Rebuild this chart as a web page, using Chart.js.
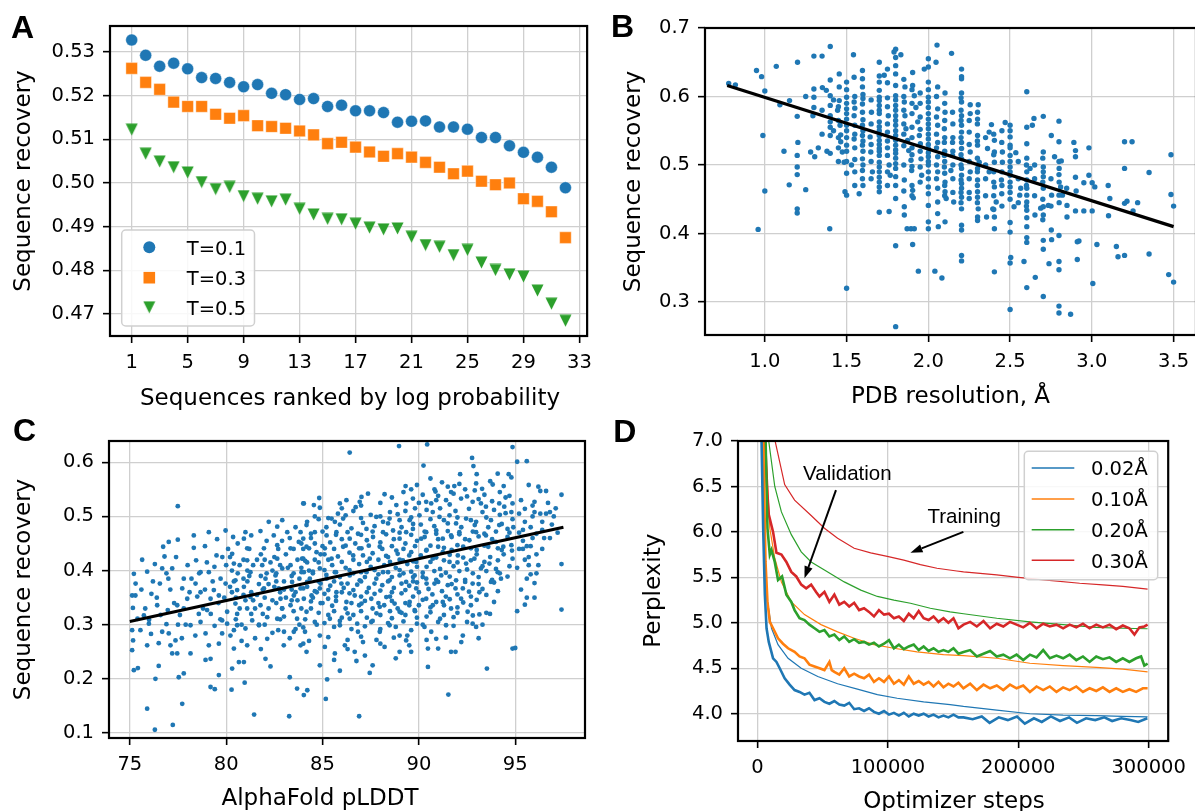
<!DOCTYPE html>
<html>
<head>
<meta charset="utf-8">
<script src="https://cdn.jsdelivr.net/npm/chart.js@4.4.1/dist/chart.umd.min.js"></script>
<style>
  html, body { margin: 0; padding: 0; background: #fff; }
  body { width: 1195px; height: 811px; position: relative; overflow: hidden; }
  canvas { position: absolute; }
</style>
</head>
<body>
<canvas id="chart-a" width="600" height="415" style="left:0px;top:0px"></canvas>
<canvas id="chart-b" width="612" height="415" style="left:600px;top:0px"></canvas>
<canvas id="chart-c" width="600" height="406" style="left:0px;top:405px"></canvas>
<canvas id="chart-d" width="595" height="406" style="left:600px;top:405px"></canvas>
<script>
// ---------- Panel A: recovery of sequences ranked by log probability ----------
const ranks = [1,2,3,4,5,6,7,8,9,10,11,12,13,14,15,16,17,18,19,20,21,22,23,24,25,26,27,28,29,30,31,32];
const recoveryT01 = [0.5327,0.5292,0.5267,0.5274,0.5261,0.5241,0.5239,0.5230,0.5220,0.5225,0.5205,0.5202,0.5191,0.5193,0.5175,0.5178,0.5165,0.5165,0.5161,0.5139,0.5141,0.5142,0.5128,0.5128,0.5123,0.5104,0.5104,0.5085,0.5070,0.5059,0.5036,0.4989];
const recoveryT03 = [0.5262,0.5230,0.5214,0.5185,0.5175,0.5175,0.5157,0.5148,0.5154,0.5131,0.5129,0.5125,0.5119,0.5110,0.5090,0.5093,0.5082,0.5071,0.5061,0.5067,0.5059,0.5047,0.5036,0.5021,0.5027,0.5004,0.4996,0.5000,0.4964,0.4958,0.4934,0.4875];
const recoveryT05 = [0.5122,0.5067,0.5049,0.5036,0.5024,0.5002,0.4986,0.4991,0.4970,0.4964,0.4958,0.4962,0.4941,0.4928,0.4918,0.4917,0.4907,0.4898,0.4894,0.4896,0.4877,0.4858,0.4854,0.4835,0.4847,0.4818,0.4801,0.4791,0.4786,0.4754,0.4724,0.4685];
const rankTicks = [1,5,9,13,17,21,25,29,33];
const recoveryTicksA = [0.47,0.48,0.49,0.50,0.51,0.52,0.53];

// ---------- Panel B: recovery vs PDB resolution ----------
const pdbPoints = [
  [0.779,0.619],[0.82,0.617],[0.949,0.638],[0.98,0.629],[1.0,0.608],[0.988,0.543],[1.0,0.462],[0.959,0.406],
  [1.07,0.644],[1.092,0.588],[1.117,0.520],[1.151,0.594],[1.149,0.471],[1.20,0.650],[1.198,0.571],[1.202,0.533],
  [1.198,0.514],[1.198,0.497],[1.198,0.486],[1.198,0.436],[1.198,0.430],[1.25,0.464],[1.25,0.600],[1.30,0.659],
  [1.35,0.659],[1.30,0.611],[1.30,0.599],[1.30,0.584],[1.294,0.572],[1.28,0.519],[1.305,0.512],[1.327,0.525],
  [1.40,0.673],[1.40,0.624],[1.40,0.601],[1.40,0.587],[1.40,0.563],[1.40,0.555],[1.40,0.543],[1.40,0.517],
  [1.397,0.407],[1.352,0.613],[1.376,0.609],[1.40,0.572],[1.455,0.633],[1.455,0.614],[1.455,0.594],[1.445,0.580],
  [1.46,0.558],[1.464,0.544],[1.464,0.534],[1.474,0.519],[1.485,0.504],[1.49,0.461],[1.50,0.456],[1.50,0.621],
  [1.50,0.599],[1.50,0.582],[1.50,0.567],[1.50,0.550],[1.50,0.529],[1.50,0.520],[1.50,0.320],[1.53,0.500],
  [1.542,0.661],[1.546,0.628],[1.546,0.592],[1.546,0.572],[1.55,0.558],[1.546,0.538],[1.55,0.508],[1.55,0.470],
  [1.577,0.458],[1.597,0.638],[1.597,0.626],[1.597,0.614],[1.597,0.589],[1.597,0.577],[1.597,0.558],[1.597,0.543],
  [1.597,0.529],[1.597,0.509],[1.597,0.492],[1.597,0.480],[1.644,0.541],[1.652,0.577],[1.648,0.519],[1.658,0.490],
  [1.70,0.650],[1.70,0.621],[1.70,0.609],[1.70,0.599],[1.70,0.587],[1.70,0.575],[1.70,0.563],[1.70,0.550],
  [1.70,0.536],[1.70,0.524],[1.70,0.514],[1.70,0.504],[1.70,0.490],[1.70,0.475],[1.70,0.461],[1.70,0.431],
  [1.76,0.432],[1.73,0.631],[1.75,0.640],[1.755,0.572],[1.75,0.548],[1.75,0.514],[1.76,0.500],[1.767,0.485],
  [1.79,0.665],[1.80,0.669],[1.80,0.657],[1.80,0.645],[1.80,0.633],[1.80,0.616],[1.80,0.601],[1.80,0.587],
  [1.80,0.572],[1.80,0.558],[1.80,0.543],[1.80,0.529],[1.80,0.517],[1.80,0.502],[1.80,0.483],[1.80,0.451],
  [1.80,0.382],[1.80,0.264],[1.832,0.661],[1.853,0.478],[1.853,0.439],[1.853,0.427],[1.87,0.407],[1.894,0.407],
  [1.904,0.384],[1.914,0.407],[1.939,0.345],[1.857,0.614],[1.853,0.592],[1.857,0.572],[1.863,0.553],[1.873,0.536],
  [1.88,0.521],[1.894,0.507],[1.898,0.492],[1.904,0.463],[1.908,0.452],[1.904,0.635],[1.904,0.616],[1.914,0.601],
  [1.924,0.584],[1.935,0.563],[1.945,0.543],[1.951,0.531],[1.955,0.509],[1.959,0.485],[1.975,0.640],[2.0,0.655],
  [2.0,0.643],[2.0,0.621],[2.0,0.599],[2.0,0.584],[2.0,0.567],[2.0,0.553],[2.0,0.538],[2.0,0.524],
  [2.0,0.512],[2.0,0.500],[2.0,0.490],[2.0,0.468],[2.0,0.441],[2.0,0.417],[2.0,0.407],[2.04,0.345],
  [2.053,0.675],[2.061,0.410],[2.047,0.650],[2.057,0.614],[2.057,0.582],[2.057,0.558],[2.057,0.533],[2.057,0.512],
  [2.057,0.490],[2.057,0.466],[2.057,0.446],[2.057,0.429],[2.142,0.663],[2.203,0.640],[2.203,0.629],[2.203,0.626],
  [2.203,0.605],[2.203,0.592],[2.203,0.572],[2.203,0.558],[2.203,0.548],[2.203,0.533],[2.203,0.524],[2.203,0.509],
  [2.203,0.495],[2.203,0.485],[2.203,0.473],[2.203,0.466],[2.203,0.453],[2.203,0.436],[2.203,0.412],[2.203,0.405],
  [2.203,0.368],[2.203,0.360],[2.102,0.605],[2.102,0.577],[2.148,0.577],[2.098,0.553],[2.098,0.533],[2.148,0.533],
  [2.098,0.514],[2.148,0.514],[2.098,0.497],[2.138,0.492],[2.102,0.475],[2.102,0.461],[2.109,0.451],[2.155,0.446],
  [2.102,0.417],[2.083,0.335],[2.256,0.588],[2.305,0.588],[2.256,0.575],[2.301,0.577],[2.301,0.567],[2.25,0.548],
  [2.301,0.543],[2.256,0.519],[2.301,0.529],[2.311,0.504],[2.301,0.495],[2.256,0.490],[2.301,0.478],[2.301,0.461],
  [2.25,0.451],[2.301,0.453],[2.305,0.436],[2.301,0.424],[2.356,0.424],[2.301,0.419],[2.386,0.559],[2.372,0.548],
  [2.404,0.536],[2.404,0.519],[2.362,0.524],[2.404,0.504],[2.372,0.490],[2.404,0.468],[2.415,0.446],[2.394,0.436],
  [2.404,0.424],[2.404,0.407],[2.404,0.344],[2.449,0.533],[2.453,0.519],[2.447,0.478],[2.47,0.562],[2.453,0.504],
  [2.449,0.458],[2.5,0.558],[2.5,0.550],[2.5,0.541],[2.5,0.529],[2.5,0.514],[2.5,0.497],[2.5,0.485],
  [2.5,0.475],[2.5,0.468],[2.5,0.450],[2.5,0.416],[2.5,0.402],[2.504,0.365],[2.5,0.357],[2.5,0.289],
  [2.535,0.518],[2.524,0.439],[2.565,0.466],[2.559,0.456],[2.602,0.607],[2.602,0.555],[2.602,0.531],[2.602,0.510],
  [2.602,0.490],[2.602,0.478],[2.602,0.466],[2.602,0.456],[2.602,0.446],[2.602,0.434],[2.602,0.423],[2.602,0.410],
  [2.602,0.394],[2.602,0.387],[2.585,0.359],[2.602,0.321],[2.636,0.558],[2.646,0.568],[2.622,0.495],[2.652,0.427],
  [2.654,0.336],[2.703,0.571],[2.703,0.519],[2.703,0.497],[2.703,0.490],[2.703,0.483],[2.703,0.466],[2.703,0.439],
  [2.703,0.427],[2.703,0.390],[2.703,0.377],[2.703,0.308],[2.687,0.437],[2.734,0.441],[2.752,0.543],[2.772,0.512],
  [2.754,0.456],[2.752,0.405],[2.754,0.391],[2.738,0.356],[2.799,0.564],[2.799,0.534],[2.799,0.505],[2.799,0.486],
  [2.809,0.468],[2.799,0.456],[2.82,0.456],[2.799,0.397],[2.799,0.359],[2.799,0.347],[2.799,0.294],[2.799,0.284],
  [2.87,0.282],[2.846,0.466],[2.813,0.506],[2.848,0.441],[2.848,0.424],[2.89,0.533],[2.9,0.521],[2.9,0.512],
  [2.9,0.482],[2.904,0.462],[2.9,0.433],[2.911,0.388],[2.921,0.389],[2.911,0.362],[2.951,0.474],[2.951,0.433],
  [2.982,0.525],[2.982,0.485],[3.002,0.474],[3.002,0.433],[3.018,0.468],[3.006,0.327],[3.031,0.384],[3.1,0.470],
  [3.11,0.451],[3.102,0.426],[3.15,0.381],[3.16,0.366],[3.2,0.495],[3.2,0.534],[3.246,0.534],[3.2,0.444],
  [3.215,0.447],[3.2,0.368],[3.252,0.433],[3.28,0.445],[3.35,0.489],[3.35,0.370],[3.47,0.340],[3.484,0.515],
  [3.484,0.457],[3.5,0.440],[3.5,0.329]
];
// dense core of panel B (1.3 - 2.8 Å), read column by column
const pdbPointsCore = [
  [1.35,0.580],[1.35,0.545],[1.38,0.520],[1.42,0.595],[1.42,0.550],
  [1.45,0.565],[1.45,0.540],[1.45,0.525],[1.45,0.505],[1.45,0.585],
  [1.5,0.610],[1.5,0.590],[1.5,0.575],[1.5,0.558],[1.5,0.540],[1.5,0.505],[1.5,0.488],
  [1.55,0.600],[1.55,0.583],[1.55,0.545],[1.55,0.525],[1.55,0.490],
  [1.6,0.603],[1.6,0.597],[1.6,0.566],[1.6,0.550],[1.6,0.535],[1.6,0.520],[1.6,0.500],[1.6,0.470],
  [1.65,0.595],[1.65,0.560],[1.65,0.530],[1.65,0.505],[1.65,0.480],
  [1.7,0.630],[1.7,0.594],[1.7,0.580],[1.7,0.556],[1.7,0.543],[1.7,0.530],[1.7,0.520],[1.7,0.497],[1.7,0.482],[1.7,0.468],
  [1.75,0.620],[1.75,0.598],[1.75,0.585],[1.75,0.560],[1.75,0.535],[1.75,0.525],[1.75,0.490],[1.75,0.470],
  [1.8,0.595],[1.8,0.580],[1.8,0.565],[1.8,0.550],[1.8,0.536],[1.8,0.522],[1.8,0.510],[1.8,0.495],[1.8,0.470],
  [1.85,0.625],[1.85,0.600],[1.85,0.580],[1.85,0.560],[1.85,0.545],[1.85,0.528],[1.85,0.500],[1.85,0.462],
  [1.9,0.610],[1.9,0.590],[1.9,0.575],[1.9,0.555],[1.9,0.540],[1.9,0.525],[1.9,0.515],[1.9,0.498],[1.9,0.470],[1.9,0.455],
  [1.95,0.605],[1.95,0.590],[1.95,0.570],[1.95,0.552],[1.95,0.520],[1.95,0.497],[1.95,0.475],
  [2.0,0.610],[2.0,0.592],[2.0,0.575],[2.0,0.560],[2.0,0.545],[2.0,0.530],[2.0,0.518],[2.0,0.505],[2.0,0.480],[2.0,0.458],
  [2.05,0.600],[2.05,0.570],[2.05,0.545],[2.05,0.525],[2.05,0.500],[2.05,0.480],
  [2.1,0.590],[2.1,0.565],[2.1,0.540],[2.1,0.520],[2.1,0.505],[2.1,0.488],[2.1,0.470],[2.1,0.455],
  [2.15,0.560],[2.15,0.540],[2.15,0.520],[2.15,0.500],[2.15,0.480],[2.15,0.460],
  [2.2,0.598],[2.2,0.580],[2.2,0.565],[2.2,0.540],[2.2,0.515],[2.2,0.500],[2.2,0.478],[2.2,0.460],[2.2,0.445],
  [2.25,0.565],[2.25,0.530],[2.25,0.505],[2.25,0.480],[2.25,0.460],
  [2.3,0.560],[2.3,0.535],[2.3,0.510],[2.3,0.490],[2.3,0.470],[2.3,0.445],
  [2.35,0.540],[2.35,0.500],[2.35,0.480],[2.35,0.455],
  [2.4,0.545],[2.4,0.515],[2.4,0.490],[2.4,0.475],[2.4,0.455],[2.4,0.435],
  [2.45,0.550],[2.45,0.490],[2.45,0.470],[2.45,0.440],
  [2.5,0.525],[2.5,0.505],[2.5,0.490],[2.5,0.460],
  [2.55,0.505],[2.55,0.480],[2.55,0.445],[2.6,0.500],[2.6,0.470],[2.6,0.440],
  [2.65,0.500],[2.65,0.480],[2.65,0.455],[2.7,0.510],[2.7,0.475],[2.7,0.450],[2.7,0.420],
  [2.75,0.480],[2.75,0.440],[2.8,0.495],[2.8,0.475],[2.8,0.445]
];
const pdbFit = [[0.77,0.616],[3.5,0.410]];
const resolutionTicks = [1.0,1.5,2.0,2.5,3.0,3.5];
const recoveryTicksB = [0.3,0.4,0.5,0.6,0.7];

// ---------- Panel C: recovery vs AlphaFold pLDDT ----------
const plddtPoints = [
  [77.49,0.519],[75.64,0.420],[75.21,0.394],[75.12,0.354],[75.29,0.354],[75.16,0.331],[75.12,0.290],[75.17,0.271],
  [75.12,0.253],[75.21,0.216],[75.42,0.220],[75.9,0.145],[76.3,0.106],[77.23,0.115],[77.72,0.154],[76.33,0.200],
  [76.5,0.224],[76.73,0.444],[77.02,0.453],[77.49,0.457],[76.8,0.426],[76.68,0.404],[77.2,0.404],[76.56,0.376],
  [76.12,0.357],[76.42,0.336],[75.73,0.317],[75.99,0.302],[75.55,0.290],[75.9,0.262],[76.68,0.287],[77.02,0.284],
  [77.11,0.262],[77.37,0.271],[77.46,0.247],[77.54,0.203],[77.8,0.210],[77.2,0.247],[76.97,0.327],[77.46,0.336],
  [77.72,0.367],[77.8,0.385],[77.98,0.348],[78.15,0.299],[78.15,0.247],[78.32,0.465],[78.32,0.442],[78.44,0.419],
  [78.67,0.397],[78.41,0.376],[78.67,0.360],[78.58,0.320],[78.67,0.305],[79.1,0.471],[79.1,0.397],[79.19,0.348],
  [79.01,0.327],[78.93,0.284],[79.1,0.262],[79.19,0.237],[78.93,0.235],[79.19,0.185],[79.41,0.181],[79.53,0.458],
  [79.5,0.428],[79.39,0.407],[79.71,0.385],[79.62,0.354],[79.36,0.364],[79.79,0.308],[79.79,0.284],[79.62,0.265],
  [79.62,0.207],[79.97,0.474],[79.97,0.376],[80.05,0.324],[80.05,0.302],[80.22,0.280],[80.28,0.180],[80.36,0.462],
  [80.31,0.431],[80.4,0.413],[80.48,0.382],[80.57,0.364],[80.48,0.339],[80.57,0.320],[80.57,0.299],[80.4,0.256],
  [80.31,0.219],[80.66,0.231],[80.92,0.459],[81.09,0.441],[81.0,0.471],[81.09,0.419],[81.26,0.397],[80.92,0.370],
  [81.26,0.351],[81.09,0.330],[81.35,0.308],[81.0,0.293],[81.09,0.262],[80.92,0.231],[80.96,0.193],[81.45,0.134],
  [81.78,0.473],[81.96,0.441],[81.87,0.410],[82.04,0.385],[81.96,0.367],[81.78,0.336],[82.13,0.314],[81.7,0.299],
  [82.13,0.274],[82.04,0.237],[82.3,0.223],[82.21,0.490],[82.47,0.465],[82.65,0.447],[82.65,0.422],[82.91,0.404],
  [82.56,0.391],[82.73,0.367],[82.82,0.348],[82.91,0.330],[82.65,0.311],[83.0,0.287],[82.99,0.262],[82.91,0.493],
  [82.65,0.481],[83.3,0.203],[83.27,0.131],[83.17,0.471],[83.34,0.441],[83.34,0.410],[83.42,0.379],[83.51,0.354],
  [83.34,0.336],[83.68,0.311],[83.51,0.287],[83.86,0.262],[84.03,0.524],[83.86,0.471],[83.77,0.453],[83.94,0.422],
  [84.03,0.397],[83.86,0.367],[84.03,0.348],[83.68,0.182],[84.03,0.170],
  [86.41,0.618],[88.97,0.630],[90.43,0.633],[94.86,0.628],[90.24,0.594],[92.76,0.608],[92.83,0.593],[92.14,0.578],
  [92.97,0.561],[93.83,0.559],[94.09,0.579],[94.66,0.578],[89.31,0.556],[89.6,0.550],[90.81,0.550],[91.84,0.556],
  [90.86,0.546],[91.67,0.545],[93.28,0.551],[88.22,0.541],[87.36,0.542],[87.02,0.536],[86.24,0.530],[85.9,0.524],
  [84.83,0.534],[84.55,0.521],[84.0,0.524],[84.86,0.516],[86.72,0.517],[86.93,0.527],[88.83,0.521],[89.34,0.524],
  [89.69,0.533],[90.38,0.527],[90.64,0.524],[91.41,0.530],[92.19,0.533],[92.79,0.527],[93.22,0.524],[93.48,0.518],
  [94.17,0.524],[94.43,0.518],[94.86,0.524],[85.47,0.496],[86.07,0.496],[85.64,0.490],[87.79,0.499],[88.14,0.490],
  [88.48,0.496],[89.0,0.493],[89.52,0.493],[90.03,0.502],[90.72,0.508],[91.07,0.499],[91.59,0.502],[91.93,0.487],
  [92.45,0.496],[92.97,0.490],[93.74,0.493],[94.17,0.484],[94.6,0.477],[94.86,0.495],[84.17,0.484],[84.6,0.471],
  [84.0,0.459],[85.21,0.465],[85.72,0.471],[86.41,0.459],[86.84,0.468],[87.28,0.477],[87.62,0.462],[88.14,0.471],
  [88.66,0.474],[89.0,0.459],[89.34,0.471],[89.69,0.477],[90.12,0.459],[90.38,0.471],[90.9,0.474],[91.24,0.459],
  [91.67,0.465],[92.1,0.471],[92.62,0.456],[92.97,0.471],[93.48,0.465],[94.0,0.453],[94.38,0.444],[94.83,0.437],
  [94.86,0.422],[84.17,0.444],[84.69,0.434],[84.0,0.422],[85.12,0.441],[85.47,0.422],[86.07,0.444],[86.59,0.428],
  [87.02,0.441],[87.45,0.422],[87.97,0.444],[88.4,0.425],[88.83,0.437],[89.17,0.419],[89.6,0.434],[89.86,0.416],
  [90.38,0.437],[90.72,0.422],[91.24,0.434],[91.59,0.416],[92.02,0.428],[92.45,0.413],[92.88,0.422],[93.22,0.404],
  [93.66,0.413],[94.09,0.397],[94.26,0.385],[83.91,0.397],[84.34,0.385],[84.86,0.404],[85.21,0.385],[85.64,0.397],
  [85.98,0.376],[86.41,0.391],[86.93,0.382],[87.28,0.397],[87.79,0.385],[88.14,0.397],[88.48,0.382],[89.0,0.391],
  [89.34,0.379],[89.78,0.391],[89.86,0.367],[90.38,0.385],[90.81,0.376],[91.16,0.391],[91.5,0.373],[91.93,0.382],
  [92.28,0.367],[92.79,0.376],[93.14,0.360],[93.74,0.379],[93.69,0.320],[93.14,0.319],[84.0,0.367],[84.43,0.354],
  [84.86,0.367],[85.29,0.348],[85.72,0.360],[86.24,0.342],[86.67,0.354],[87.02,0.339],[87.53,0.348],[87.97,0.333],
  [88.31,0.351],[88.74,0.339],[89.0,0.324],[89.52,0.342],[89.78,0.327],[90.38,0.348],[90.72,0.336],[91.24,0.342],
  [91.67,0.330],[92.19,0.348],[92.53,0.324],[84.17,0.324],[84.6,0.305],[84.09,0.287],[84.86,0.280],[85.38,0.311],
  [85.9,0.299],[86.41,0.311],[86.84,0.287],[87.53,0.305],[87.97,0.287],[88.48,0.299],[89.0,0.280],[89.34,0.271],
  [90.29,0.296],[90.64,0.287],[90.9,0.274],[91.41,0.299],[92.28,0.280],[92.79,0.302],[92.97,0.296],[84.0,0.265],
  [84.17,0.250],[85.12,0.259],[85.64,0.247],[86.16,0.262],[86.67,0.250],[87.1,0.268],[88.22,0.259],[89.0,0.250],
  [89.6,0.250],[90.47,0.256],[91.0,0.256],[91.67,0.250],[84.86,0.225],[86.76,0.233],[87.45,0.211],[90.47,0.222],
  [93.53,0.219],[85.24,0.199],[84.21,0.179],[85.17,0.163],[86.9,0.131],[91.53,0.171],[94.86,0.256],
  [95.1,0.601],[95.6,0.602],[95.7,0.558],[96.0,0.527],[96.3,0.547],[96.6,0.547],[96.8,0.508],[97.4,0.540],
  [97.4,0.412],[97.4,0.328],[95.6,0.350],[95.5,0.337],[95.1,0.325],[95.0,0.257],[95.9,0.460],[95.5,0.490],
  [95.5,0.420],[95.8,0.393],[96.0,0.377],[95.4,0.440],[96.0,0.508],[96.4,0.475],[95.7,0.425],[96.2,0.410],
  [96.0,0.350],[95.5,0.514]
];
// denser body of the panel C cloud, read band by band
const plddtPointsCore = [
  [75.3,0.376],[75.6,0.365],[75.8,0.330],[76.0,0.309],[76.2,0.380],[76.4,0.350],[76.6,0.318],[76.9,0.395],
  [77.1,0.365],[77.3,0.340],[77.6,0.318],[77.9,0.300],[78.0,0.410],[78.2,0.385],[78.5,0.352],[78.8,0.330],
  [79.0,0.415],[79.3,0.380],[79.6,0.340],[79.8,0.425],[76.1,0.283],[76.9,0.301],[77.7,0.275],[78.4,0.280],
  [79.4,0.298],[75.4,0.311],[76.3,0.412],[77.4,0.425],[78.9,0.445],[79.7,0.310],[75.9,0.398],[77.0,0.385],
  [78.1,0.360],[78.9,0.365],[79.9,0.350],[76.5,0.266],[77.8,0.330],[79.2,0.320],[78.6,0.395],[77.5,0.300],
  [80.1,0.440],[80.3,0.400],[80.5,0.350],[80.7,0.330],[80.9,0.420],[81.1,0.380],[81.3,0.360],[81.5,0.330],
  [81.6,0.420],[81.8,0.390],[82.0,0.350],[82.2,0.330],[82.4,0.400],[82.5,0.370],[82.7,0.440],[82.8,0.310],
  [83.0,0.380],[83.1,0.350],[83.3,0.460],[83.4,0.390],[83.6,0.360],[83.7,0.420],[83.9,0.330],[84.0,0.440],
  [84.2,0.370],[84.3,0.400],[84.5,0.350],[84.6,0.420],[84.8,0.380],[84.9,0.340],[80.2,0.370],[80.6,0.395],
  [81.0,0.345],[81.4,0.410],[81.9,0.365],[82.3,0.415],[82.6,0.340],[83.2,0.405],[83.5,0.325],[83.8,0.385],
  [84.1,0.310],[84.4,0.460],[84.7,0.300],[80.8,0.300],[81.2,0.440],[81.7,0.300],[82.1,0.455],[82.9,0.455],
  [83.6,0.480],[84.2,0.490],[84.6,0.450],[80.4,0.290],[81.5,0.275],[82.4,0.285],[83.3,0.275],[84.3,0.270],
  [84.8,0.495],[80.0,0.410],[80.9,0.385],[81.8,0.430],[82.6,0.395],[83.1,0.430],[83.9,0.450],[84.5,0.395],
  [84.9,0.430],[80.5,0.310],[81.3,0.320],[82.0,0.300],[82.8,0.360],[83.7,0.345],[84.4,0.330],[84.0,0.295],
  [83.0,0.315],[82.2,0.375],[81.1,0.400],[80.3,0.360],[84.7,0.360],[84.2,0.415],[83.4,0.365],[82.5,0.425],
  [81.6,0.355],[80.2,0.425],[80.7,0.410],[81.2,0.390],[81.7,0.375],[82.1,0.395],[82.6,0.380],[83.0,0.365],
  [83.5,0.395],[83.9,0.405],[80.4,0.380],[80.9,0.355],[81.4,0.345],[81.9,0.320],[82.4,0.345],[82.9,0.330],
  [83.4,0.345],[83.8,0.300],[80.6,0.450],[81.3,0.465],[82.0,0.420],[82.8,0.410],[83.5,0.440],[80.8,0.270],
  [81.8,0.255],[82.7,0.290],[83.6,0.292],
  [85.2,0.480],[85.9,0.485],[86.5,0.478],[87.1,0.488],[87.7,0.482],[88.4,0.487],[89.1,0.480],[89.7,0.486],
  [85.4,0.452],[86.0,0.458],[86.7,0.450],[87.3,0.456],[88.0,0.452],[88.7,0.458],[89.3,0.450],[89.9,0.455],
  [85.1,0.430],[85.8,0.426],[86.4,0.433],[87.1,0.428],[87.6,0.432],[88.3,0.427],[88.9,0.431],[89.5,0.428],
  [85.5,0.410],[86.2,0.405],[86.9,0.412],[87.5,0.407],[88.2,0.410],[88.8,0.405],[89.4,0.412],[89.9,0.407],
  [85.2,0.392],[85.9,0.388],[86.6,0.395],[87.2,0.388],[87.9,0.393],[88.6,0.388],[89.2,0.395],[89.7,0.388],
  [85.4,0.372],[86.1,0.368],[86.8,0.374],[87.4,0.368],[88.1,0.373],[88.7,0.368],[89.5,0.372],[89.9,0.378],
  [85.1,0.357],[85.7,0.352],[86.4,0.358],[87.0,0.352],[87.7,0.357],[88.5,0.352],[89.1,0.358],[89.7,0.352],
  [85.5,0.335],[86.2,0.330],[86.9,0.336],[87.6,0.330],[88.2,0.336],[88.9,0.330],[89.5,0.336],
  [85.3,0.318],[86.0,0.313],[86.6,0.318],[87.3,0.313],[88.0,0.318],[88.6,0.312],[89.3,0.318],[89.9,0.313],
  [85.6,0.296],[86.5,0.292],[87.2,0.297],[88.0,0.292],[88.8,0.296],[89.6,0.290],
  [85.3,0.277],[86.3,0.272],[87.0,0.278],[87.8,0.272],[88.7,0.276],[89.4,0.280],
  [85.8,0.505],[86.6,0.510],[87.5,0.503],[88.5,0.508],[89.3,0.510],[87.0,0.520],[88.0,0.525],[86.0,0.515],
  [89.8,0.515],[85.6,0.235],[86.3,0.255],[87.2,0.243],[88.0,0.265],[88.8,0.238],[89.5,0.262],[87.6,0.225],
  [85.9,0.215],
  [84.4,0.468],[85.0,0.472],[85.7,0.466],[86.3,0.471],[87.0,0.466],[87.6,0.472],[88.3,0.467],[89.0,0.470],
  [89.6,0.466],[90.3,0.472],[90.9,0.468],[91.5,0.473],[92.1,0.467],[92.8,0.472],[93.4,0.468],[94.0,0.472],
  [94.7,0.470],[84.3,0.441],[85.0,0.445],[85.6,0.440],[86.2,0.446],[86.9,0.441],[87.4,0.446],[88.1,0.440],
  [88.6,0.445],[89.2,0.440],[89.8,0.445],[90.4,0.438],[91.0,0.444],[91.7,0.438],[92.3,0.444],[93.0,0.438],
  [93.6,0.444],[94.3,0.438],[84.1,0.418],[84.8,0.415],[85.3,0.420],[86.0,0.416],[86.6,0.420],[87.3,0.416],
  [87.9,0.420],[88.5,0.416],[89.0,0.420],[89.7,0.417],[90.6,0.416],[91.3,0.419],[92.0,0.415],[92.7,0.419],
  [93.4,0.416],[94.1,0.419],[84.5,0.398],[85.1,0.401],[85.7,0.397],[86.4,0.401],[87.0,0.397],[87.7,0.401],
  [88.4,0.397],[89.0,0.401],[89.6,0.398],[90.2,0.396],[90.8,0.399],[91.4,0.396],[92.1,0.399],[92.8,0.395],
  [93.5,0.399],[94.2,0.395],[84.2,0.379],[84.9,0.376],[85.6,0.380],[86.3,0.376],[87.0,0.380],[87.7,0.376],
  [88.4,0.380],[89.1,0.376],[89.7,0.380],[90.4,0.376],[91.0,0.379],[91.7,0.375],[92.4,0.379],[93.1,0.375],
  [93.9,0.378],[84.6,0.362],[85.3,0.364],[86.0,0.360],[86.6,0.364],[87.3,0.360],[88.0,0.363],[88.6,0.360],
  [89.3,0.364],[90.0,0.360],[90.7,0.356],[91.4,0.352],[92.0,0.356],[92.7,0.352],[93.5,0.355],[84.4,0.343],
  [85.0,0.340],[85.7,0.344],[86.5,0.340],[87.2,0.344],[87.9,0.340],[88.6,0.344],[89.3,0.340],[90.0,0.336],
  [90.6,0.332],[91.3,0.336],[92.0,0.332],[92.7,0.336],[84.8,0.322],[85.6,0.325],[86.3,0.321],[87.0,0.325],
  [87.8,0.321],[88.5,0.325],[89.1,0.322],[89.8,0.325],[90.4,0.315],[91.1,0.311],[91.8,0.314],[85.1,0.303],
  [85.9,0.307],[86.8,0.302],[87.6,0.307],[88.4,0.303],[89.2,0.306],[89.9,0.302],[84.6,0.500],[85.3,0.497],
  [86.2,0.502],[87.0,0.497],[88.0,0.500],[88.9,0.504],[89.6,0.498],[90.6,0.495],[91.3,0.493],[92.0,0.498],
  [92.7,0.493],[93.5,0.498],[94.2,0.503],[94.8,0.508],[88.6,0.535],[89.2,0.545],[90.0,0.525],[90.9,0.530],
  [91.6,0.522],[92.4,0.550],[93.1,0.532],[93.8,0.528],[94.5,0.535],[91.5,0.555],[89.9,0.558],[92.9,0.548],
  [90.2,0.540],[91.0,0.538],[91.8,0.542],[92.5,0.537],[93.4,0.540],[94.2,0.545],[94.7,0.538],
  [90.4,0.512],[91.1,0.515],[91.9,0.510],[92.6,0.514],[93.3,0.508],[93.9,0.512],[94.5,0.506],
  [90.1,0.485],[90.8,0.482],[91.5,0.487],[92.2,0.480],[92.9,0.484],[93.6,0.480],[94.3,0.486],[94.9,0.480],
  [90.3,0.462],[91.0,0.458],[91.7,0.462],[92.4,0.458],[93.1,0.463],[93.8,0.458],[94.6,0.462],
  [90.6,0.446],[91.3,0.442],[92.0,0.447],[92.7,0.441],[93.4,0.446],[94.1,0.441],[94.8,0.447],
  [90.1,0.428],[90.9,0.424],[91.6,0.429],[92.3,0.424],[93.0,0.430],[93.7,0.425],[94.4,0.430],
  [90.4,0.407],[91.1,0.403],[91.8,0.408],[92.5,0.402],[93.3,0.408],[94.0,0.403],[94.7,0.408],
  [90.2,0.388],[90.9,0.383],[91.6,0.389],[92.4,0.383],[93.1,0.388],[93.8,0.383],[94.6,0.389],
  [90.5,0.366],[91.2,0.362],[91.9,0.367],[92.6,0.361],[93.3,0.366],[94.1,0.362],
  [90.2,0.346],[90.9,0.342],[91.6,0.347],[92.3,0.341],[93.0,0.346],[93.9,0.342],
  [90.6,0.323],[91.3,0.318],[92.0,0.322],[92.8,0.317],[93.5,0.322],
  [90.2,0.300],[91.0,0.305],[91.8,0.298],[92.5,0.305],[93.3,0.300],
  [90.4,0.272],[91.4,0.276],[92.2,0.268],[93.1,0.275],[91.9,0.250],
  [91.2,0.563],[92.1,0.560],[93.7,0.565],[94.4,0.556],[90.6,0.570],[93.0,0.578],[94.8,0.572],
  [95.2,0.470],[95.4,0.455],[95.8,0.445],[96.1,0.430],[96.5,0.460],[96.9,0.485],[97.2,0.470],[95.3,0.530],
  [95.9,0.520],[96.3,0.505],[96.7,0.525],[95.1,0.405],[95.6,0.385],[96.1,0.395],[95.3,0.365],[95.8,0.480],
  [96.4,0.440],[95.2,0.505],[97.0,0.500],[96.2,0.555],[95.4,0.475],[95.9,0.500],[96.4,0.490],[96.8,0.460],
  [95.6,0.445],[96.1,0.468],[95.2,0.440],[95.7,0.410],[96.6,0.505],[97.1,0.515]
];
const plddtFit = [[75.0,0.306],[97.5,0.480]];
const plddtTicks = [75,80,85,90,95];
const recoveryTicksC = [0.1,0.2,0.3,0.4,0.5,0.6];

// ---------- Panel D: perplexity during training, [step, perplexity] ----------
const train002 = [[3600,7.05],[4300,6.04],[6900,5.31],[10700,4.94],[15700,4.76],[23400,4.61],[33500,4.50],[46200,4.41],[61400,4.33],[76600,4.27],[91900,4.21],[107100,4.17],[127400,4.13],[147700,4.10],[158000,4.08],[183500,4.04],[208900,4.0],[234400,3.985],[259800,3.98],[280200,3.97],[299200,3.965]];
const train010 = [[5600,7.05],[9400,6.04],[13200,5.71],[18300,5.45],[25900,5.23],[36000,5.09],[48700,4.98],[61400,4.90],[74100,4.83],[89300,4.76],[104600,4.72],[122300,4.68],[142600,4.65],[158000,4.64],[183500,4.61],[208900,4.555],[234400,4.53],[259800,4.51],[280200,4.49],[299200,4.46]];
const train020 = [[8100,7.05],[13200,6.5],[18300,6.22],[25900,5.97],[33500,5.78],[41100,5.67],[51300,5.58],[66500,5.45],[79200,5.36],[91900,5.29],[104600,5.25],[117300,5.215],[132500,5.16],[147700,5.12],[158000,5.10],[183500,5.05],[208900,5.01],[234400,4.98],[259800,4.95],[280200,4.94],[299200,4.935]];
const train030 = [[12700,7.05],[20800,6.52],[28400,6.35],[41100,6.18],[51300,6.04],[61400,5.93],[74100,5.82],[86800,5.77],[99500,5.73],[112200,5.69],[124900,5.64],[137600,5.60],[152800,5.57],[158000,5.56],[183500,5.527],[200000,5.50],[221600,5.47],[247100,5.435],[264900,5.417],[280200,5.40],[299200,5.37]];
const valid002 = [[3000,7.05],[4300,6.04],[5600,5.31],[6900,4.94],[8600,4.79],[11900,4.61],[14500,4.57],[17000,4.50],[20800,4.39],[24600,4.32],[28400,4.26],[32200,4.24],[36000,4.21],[39800,4.23],[43700,4.15],[47500,4.17],[51300,4.13],[55100,4.11],[58900,4.14],[62700,4.10],[66500,4.09],[70300,4.12],[74100,4.05],[77900,4.06],[81700,4.03],[85500,4.06],[89300,4.02],[93100,4.0],[97000,4.03],[100800,3.99],[104600,4.01],[108400,3.98],[112200,4.01],[116000,3.97],[119800,4.0],[123600,3.98],[127400,4.0],[131200,3.97],[135000,3.99],[138800,3.96],[142600,3.98],[146400,3.96],[150300,3.99],[154100,3.96],[158000,3.96],[165000,3.94],[172000,3.97],[178000,3.90],[185000,3.96],[192000,3.93],[199000,3.97],[205000,3.89],[212000,3.95],[218000,3.91],[225000,3.97],[232000,3.92],[239000,3.96],[245000,3.90],[252000,3.95],[259000,3.93],[266000,3.96],[272000,3.92],[279000,3.95],[286000,3.93],[292000,3.91],[299000,3.95]];
const valid010 = [[4300,7.05],[6100,5.67],[7600,5.23],[9400,5.01],[11900,4.94],[15700,4.83],[19500,4.77],[23400,4.72],[28400,4.68],[32200,4.63],[36000,4.61],[39800,4.54],[43700,4.52],[47500,4.50],[51300,4.48],[55100,4.57],[56900,4.48],[58900,4.46],[62700,4.43],[66500,4.50],[70300,4.41],[74100,4.44],[77900,4.41],[81700,4.39],[85500,4.43],[89300,4.35],[93100,4.39],[97000,4.35],[100800,4.41],[104600,4.33],[108400,4.37],[112200,4.32],[116000,4.41],[119800,4.33],[123600,4.36],[127400,4.32],[131200,4.35],[135000,4.30],[138800,4.35],[142600,4.29],[146400,4.33],[150300,4.30],[154100,4.34],[157900,4.28],[163100,4.33],[168200,4.26],[173300,4.32],[178400,4.28],[183500,4.31],[188500,4.26],[193600,4.32],[198700,4.28],[203800,4.31],[208900,4.24],[214000,4.30],[219100,4.26],[224200,4.30],[229300,4.24],[234400,4.29],[239400,4.26],[244500,4.30],[249600,4.24],[254700,4.28],[259800,4.25],[264900,4.29],[270000,4.24],[275100,4.28],[280200,4.24],[285200,4.27],[290400,4.24],[295600,4.28],[299200,4.28]];
const valid020 = [[6100,7.05],[7600,6.04],[9400,5.75],[10700,5.80],[13200,5.67],[15700,5.47],[18800,5.51],[22100,5.31],[25900,5.23],[28400,5.14],[32200,5.05],[36000,5.03],[39800,4.98],[43700,4.94],[47500,4.90],[51300,4.92],[55100,4.85],[58900,4.87],[62700,4.81],[66500,4.85],[70300,4.79],[74100,4.82],[77900,4.78],[81700,4.79],[85500,4.76],[89300,4.78],[93100,4.74],[97000,4.77],[100800,4.81],[104600,4.72],[108400,4.76],[112200,4.71],[116000,4.74],[119800,4.76],[123600,4.70],[127400,4.74],[131200,4.69],[135000,4.72],[138800,4.68],[142600,4.70],[146400,4.68],[150300,4.72],[154100,4.66],[158000,4.68],[163100,4.70],[168200,4.63],[173300,4.66],[178400,4.69],[183500,4.63],[188500,4.65],[193600,4.61],[198700,4.65],[203800,4.59],[208900,4.65],[214000,4.62],[219100,4.70],[224200,4.61],[229300,4.64],[234400,4.61],[239400,4.65],[244500,4.59],[249600,4.63],[254700,4.57],[259800,4.63],[264900,4.60],[270000,4.62],[275100,4.57],[280200,4.61],[285200,4.57],[290400,4.61],[294200,4.63],[296700,4.53],[299200,4.55]];
const valid030 = [[5600,7.05],[7600,6.41],[8600,6.19],[11900,6.0],[14500,5.77],[18300,5.75],[22100,5.67],[25900,5.56],[29700,5.51],[33500,5.42],[37300,5.38],[41100,5.42],[44900,5.34],[47500,5.29],[51300,5.34],[55100,5.23],[58900,5.31],[62700,5.20],[66500,5.23],[70300,5.18],[74100,5.22],[77900,5.14],[81700,5.16],[85500,5.12],[89300,5.07],[93100,5.14],[97000,5.09],[100800,5.10],[104600,5.05],[108400,5.07],[112200,5.02],[116000,5.10],[119800,5.05],[123600,5.13],[127400,5.05],[131200,5.03],[135000,5.07],[138800,5.01],[142600,5.05],[146400,5.0],[150300,5.05],[154100,4.94],[158000,4.98],[163100,5.01],[168200,4.96],[173300,5.02],[178400,4.94],[183500,4.99],[188500,4.96],[193600,5.01],[198700,4.98],[203800,4.95],[208900,5.0],[214000,4.94],[219100,4.99],[224200,4.96],[229300,4.98],[234400,4.94],[239400,4.98],[244500,4.95],[249600,4.99],[254700,4.94],[259800,4.98],[264900,4.95],[270000,4.98],[275100,4.93],[280200,4.97],[285200,4.94],[289100,4.87],[292900,4.95],[296700,4.96],[299200,4.98]];
const noiseLabels = ["0.02Å","0.10Å","0.20Å","0.30Å"];
const stepTicks = [0,100000,200000,300000];
const perplexityTicks = [4.0,4.5,5.0,5.5,6.0,6.5,7.0];

// matplotlib tab10 colours
const BLUE = "#1f77b4", ORANGE = "#ff7f0e", GREEN = "#2ca02c", RED = "#d62728";
const TICK_FONT = { family: "'DejaVu Sans'", size: 19.5 };
const TITLE_FONT = "23px 'DejaVu Sans'";
const LETTER_FONT = "bold 32px 'Liberation Sans'";

// Turn [x, y] pairs into Chart.js points
function toPoints(pairs) {
  return pairs.map((p) => ({ x: p[0], y: p[1] }));
}

// Build one axis with fixed ticks and a fixed box size so the plot area lands where it should
function axis(min, max, ticks, digits, fitKey, fitSize) {
  return {
    type: "linear",
    min: min,
    max: max,
    bounds: "data",
    afterBuildTicks: (scale) => {
      scale.ticks = ticks.map((v) => ({ value: v }));
    },
    afterFit: (scale) => {
      scale[fitKey] = fitSize;
    },
    ticks: {
      font: TICK_FONT,
      color: "#000",
      padding: 8,
      autoSkip: false,
      maxRotation: 0,
      callback: (v) => (digits === null ? String(v) : Number(v).toFixed(digits)),
    },
    grid: {
      color: "#cfcfcf",
      lineWidth: 1.3,
      drawTicks: true,
      tickLength: 7,
      tickColor: "#000",
      tickWidth: 1.6,
    },
    border: { display: false },
  };
}

// Black box around the plot area, like matplotlib spines
const framePlugin = {
  id: "frame",
  afterDatasetsDraw(chart) {
    const { ctx, chartArea: a } = chart;
    ctx.save();
    ctx.strokeStyle = "#000";
    ctx.lineWidth = 2.2;
    ctx.strokeRect(a.left, a.top, a.right - a.left, a.bottom - a.top);
    ctx.restore();
  },
};

// Draw a down-pointing triangle marker on a small canvas
function triangleDown(size, color) {
  const c = document.createElement("canvas");
  c.width = size;
  c.height = size;
  const g = c.getContext("2d");
  g.fillStyle = color;
  g.beginPath();
  g.moveTo(0.5, 0.5);
  g.lineTo(size - 0.5, 0.5);
  g.lineTo(size / 2, size - 0.5);
  g.closePath();
  g.fill();
  return c;
}

// Legend box drawn inside the plot area
const boxLegendPlugin = {
  id: "boxLegend",
  afterDraw(chart, args, opts) {
    if (!opts || !opts.items) return;
    const ctx = chart.ctx;
    const b = opts.box;
    ctx.save();
    ctx.beginPath();
    ctx.roundRect(b[0], b[1], b[2] - b[0], b[3] - b[1], 4);
    ctx.fillStyle = "rgba(255,255,255,0.85)";
    ctx.fill();
    ctx.strokeStyle = "#d0d0d0";
    ctx.lineWidth = 1.5;
    ctx.stroke();
    opts.items.forEach((item, i) => {
      const y = opts.rows[i];
      ctx.fillStyle = item.color;
      ctx.strokeStyle = item.color;
      if (item.kind === "circle") {
        ctx.beginPath();
        ctx.arc(opts.markX, y, 6, 0, Math.PI * 2);
        ctx.fill();
      } else if (item.kind === "square") {
        ctx.fillRect(opts.markX - 5.8, y - 5.8, 11.6, 11.6);
      } else if (item.kind === "triangle") {
        ctx.drawImage(item.image, opts.markX - item.image.width / 2, y - item.image.height / 2);
      } else {
        ctx.lineWidth = 1.5;
        ctx.beginPath();
        ctx.moveTo(opts.lineX[0], y);
        ctx.lineTo(opts.lineX[1], y);
        ctx.stroke();
      }
      ctx.fillStyle = "#000";
      ctx.font = "19.5px 'DejaVu Sans'";
      ctx.textAlign = "left";
      ctx.textBaseline = "alphabetic";
      ctx.fillText(item.label, opts.textX, y + 7.2);
    });
    ctx.restore();
  },
};

// Panel letters, axis titles and annotations
const panelTextPlugin = {
  id: "panelText",
  afterDraw(chart, args, opts) {
    if (!opts || !opts.items) return;
    const ctx = chart.ctx;
    opts.items.forEach((t) => {
      let x = t.x, y = t.y;
      if (t.data) {
        x = chart.scales.x.getPixelForValue(t.data[0]);
        y = chart.scales.y.getPixelForValue(t.data[1]);
      }
      ctx.save();
      ctx.fillStyle = "#000";
      ctx.font = t.font;
      ctx.textAlign = t.align || "left";
      ctx.textBaseline = t.baseline || "alphabetic";
      ctx.translate(x, y);
      if (t.rotate) ctx.rotate(-Math.PI / 2);
      ctx.fillText(t.text, 0, 0);
      ctx.restore();
    });
    (opts.arrows || []).forEach((a) => {
      const sx = chart.scales.x, sy = chart.scales.y;
      const x0 = sx.getPixelForValue(a.from[0]), y0 = sy.getPixelForValue(a.from[1]);
      const x1 = sx.getPixelForValue(a.to[0]), y1 = sy.getPixelForValue(a.to[1]);
      const ang = Math.atan2(y1 - y0, x1 - x0);
      const len = 12, half = 4.2;
      const bx = x1 - Math.cos(ang) * len, by = y1 - Math.sin(ang) * len;
      ctx.save();
      ctx.strokeStyle = "#000";
      ctx.fillStyle = "#000";
      ctx.lineWidth = 2;
      ctx.beginPath();
      ctx.moveTo(x0, y0);
      ctx.lineTo(bx, by);
      ctx.stroke();
      ctx.beginPath();
      ctx.moveTo(x1, y1);
      ctx.lineTo(bx + Math.sin(ang) * half, by - Math.cos(ang) * half);
      ctx.lineTo(bx - Math.sin(ang) * half, by + Math.cos(ang) * half);
      ctx.closePath();
      ctx.fill();
      ctx.restore();
    });
  },
};

// Shared chart options
function baseOptions(padTop, padRight, xAxis, yAxis, extra) {
  return {
    responsive: false,
    animation: false,
    events: [],
    layout: { padding: { top: padTop, right: padRight, left: 0, bottom: 0 } },
    scales: { x: xAxis, y: yAxis },
    plugins: Object.assign({ legend: { display: false }, tooltip: { enabled: false } }, extra),
  };
}

// ---------- Panel A ----------
const triGreen = triangleDown(13, GREEN);
new Chart(document.getElementById("chart-a"), {
  type: "scatter",
  data: {
    datasets: [
      { data: ranks.map((r, i) => ({ x: r, y: recoveryT01[i] })), backgroundColor: BLUE, borderColor: "rgba(255,255,255,0.5)", borderWidth: 0.8, pointRadius: 6, pointStyle: "circle", order: 3 },
      { data: ranks.map((r, i) => ({ x: r, y: recoveryT03[i] })), backgroundColor: ORANGE, borderColor: "rgba(255,255,255,0.5)", borderWidth: 0.8, pointRadius: 8.2, pointStyle: "rect", order: 2 },
      { data: ranks.map((r, i) => ({ x: r, y: recoveryT05[i] })), pointStyle: triGreen, pointRadius: 6, order: 1 },
    ],
  },
  options: baseOptions(26, 10,
    axis(-0.55, 33.55, rankTicks, null, "height", 79),
    axis(0.4650, 0.5359, recoveryTicksA, 2, "width", 110),
    {
      boxLegend: {
        box: [121.7, 230, 254.5, 326],
        rows: [247.3, 277.7, 307.3],
        markX: 149.3,
        textX: 186.8,
        items: [
          { label: "T=0.1", color: BLUE, kind: "circle" },
          { label: "T=0.3", color: ORANGE, kind: "square" },
          { label: "T=0.5", color: GREEN, kind: "triangle", image: triGreen },
        ],
      },
      panelText: {
        items: [
          { text: "A", x: 11, y: 37.5, font: LETTER_FONT },
          { text: "Sequence recovery", x: 30.2, y: 181, font: TITLE_FONT, align: "center", rotate: true },
          { text: "Sequences ranked by log probability", x: 350, y: 404.7, font: TITLE_FONT, align: "center" },
        ],
      },
    }),
  plugins: [framePlugin, boxLegendPlugin, panelTextPlugin],
});

// ---------- Panel B ----------
new Chart(document.getElementById("chart-b"), {
  type: "scatter",
  data: {
    datasets: [
      { data: toPoints(pdbFit), showLine: true, borderColor: "#000", borderWidth: 3.2, pointRadius: 0, order: 0 },
      { data: toPoints(pdbPoints.concat(pdbPointsCore)), backgroundColor: BLUE, borderWidth: 0, pointRadius: 2.7, order: 1 },
    ],
  },
  options: baseOptions(28, 16,
    axis(0.634, 3.637, resolutionTicks, 1, "height", 80),
    axis(0.2518, 0.70, recoveryTicksB, 1, "width", 105),
    {
      panelText: {
        items: [
          { text: "B", x: 11, y: 37, font: LETTER_FONT },
          { text: "Sequence recovery", x: 39.6, y: 181.5, font: TITLE_FONT, align: "center", rotate: true },
          { text: "PDB resolution, Å", x: 350.5, y: 403, font: TITLE_FONT, align: "center" },
        ],
      },
    }),
  plugins: [framePlugin, panelTextPlugin],
});

// ---------- Panel C ----------
new Chart(document.getElementById("chart-c"), {
  type: "scatter",
  data: {
    datasets: [
      { data: toPoints(plddtFit), showLine: true, borderColor: "#000", borderWidth: 3.2, pointRadius: 0, order: 0 },
      { data: toPoints(plddtPoints.concat(plddtPointsCore)), backgroundColor: BLUE, borderWidth: 0, pointRadius: 2.4, order: 1 },
    ],
  },
  options: baseOptions(36, 15,
    axis(73.92, 98.62, plddtTicks, null, "height", 73),
    axis(0.0908, 0.6393, recoveryTicksC, 1, "width", 109),
    {
      panelText: {
        items: [
          { text: "C", x: 13, y: 35.7, font: LETTER_FONT },
          { text: "Sequence recovery", x: 30.2, y: 184.5, font: TITLE_FONT, align: "center", rotate: true },
          { text: "AlphaFold pLDDT", x: 320, y: 399.7, font: TITLE_FONT, align: "center" },
        ],
      },
    }),
  plugins: [framePlugin, panelTextPlugin],
});

// ---------- Panel D ----------
function curve(pairs, color, width, order) {
  return { data: toPoints(pairs), showLine: true, borderColor: color, borderWidth: width, pointRadius: 0, tension: 0, order: order };
}
new Chart(document.getElementById("chart-d"), {
  type: "scatter",
  data: {
    datasets: [
      curve(valid002, BLUE, 2.6, 0),
      curve(valid010, ORANGE, 2.6, 0),
      curve(valid020, GREEN, 2.6, 0),
      curve(valid030, RED, 2.6, 0),
      curve(train002, BLUE, 1.2, 1),
      curve(train010, ORANGE, 1.2, 1),
      curve(train020, GREEN, 1.2, 1),
      curve(train030, RED, 1.2, 1),
    ],
  },
  options: baseOptions(36, 25,
    axis(-15000, 315000, stepTicks, null, "height", 70),
    axis(3.7, 7.0, perplexityTicks, 1, "width", 138),
    {
      boxLegend: {
        box: [424.3, 46.3, 557.7, 174.7],
        rows: [63, 94, 124.7, 155.3],
        lineX: [431.7, 474.3],
        textX: 491,
        items: [
          { label: noiseLabels[0], color: BLUE, kind: "line" },
          { label: noiseLabels[1], color: ORANGE, kind: "line" },
          { label: noiseLabels[2], color: GREEN, kind: "line" },
          { label: noiseLabels[3], color: RED, kind: "line" },
        ],
      },
      panelText: {
        items: [
          { text: "D", x: 13.3, y: 36.7, font: LETTER_FONT },
          { text: "Perplexity", x: 60.4, y: 185.75, font: TITLE_FONT, align: "center", rotate: true },
          { text: "Optimizer steps", x: 354, y: 403.4, font: TITLE_FONT, align: "center" },
          { text: "Validation", data: [68900, 6.635], font: "20.5px 'Liberation Sans'", align: "center", baseline: "middle" },
          { text: "Training", data: [158500, 6.162], font: "20.5px 'Liberation Sans'", align: "center", baseline: "middle" },
        ],
        arrows: [
          { from: [60150, 6.46], to: [36000, 5.49] },
          { from: [157900, 6.0], to: [117300, 5.77] },
        ],
      },
    }),
  plugins: [framePlugin, boxLegendPlugin, panelTextPlugin],
});
</script>
</body>
</html>
